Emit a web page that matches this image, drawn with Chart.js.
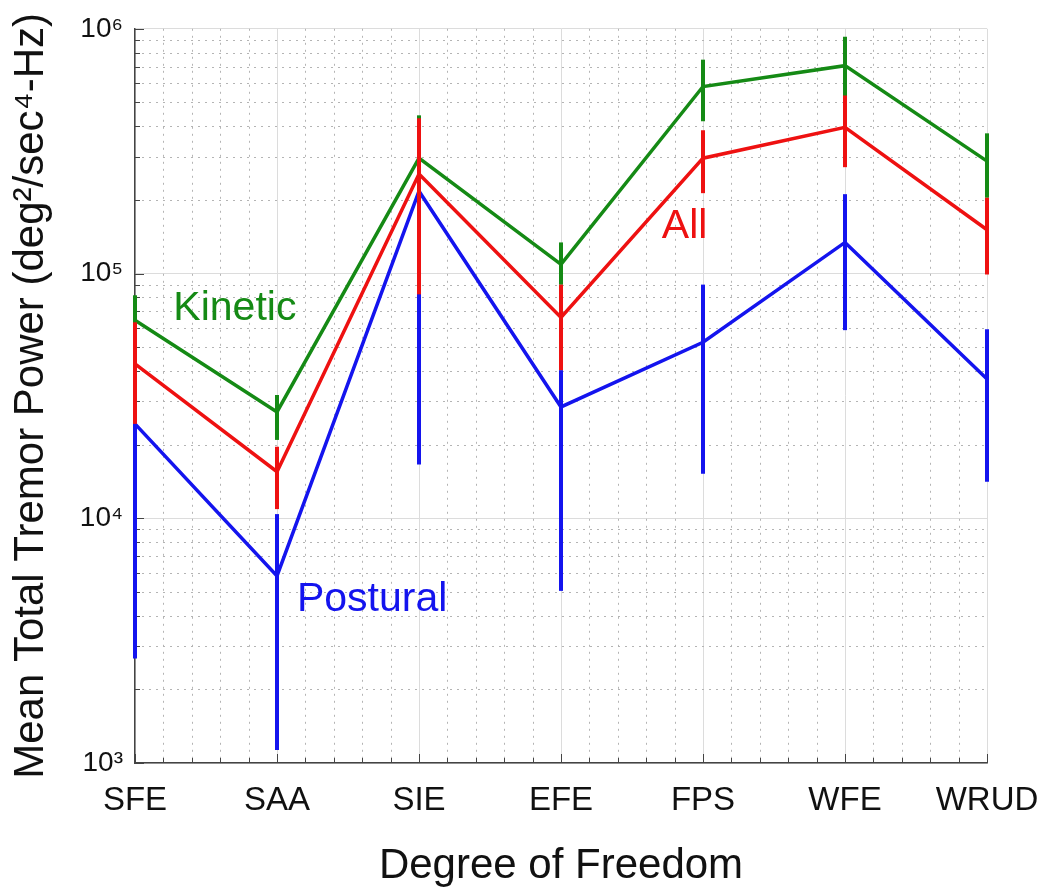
<!DOCTYPE html>
<html>
<head>
<meta charset="utf-8">
<script src="https://cdn.jsdelivr.net/npm/chart.js@4.4.1/dist/chart.umd.min.js"></script>
<style>
  html, body { margin: 0; padding: 0; background: #fff; }
  #wrap { width: 1042px; height: 894px; position: relative; }
</style>
</head>
<body>
<div id="wrap"><canvas id="tremorChart"></canvas></div>
<script>
// Mean total tremor power per degree of freedom, log scale, with error bars

const categories = ['SFE', 'SAA', 'SIE', 'EFE', 'FPS', 'WFE', 'WRUD'];

// Kinetic (green)
const kineticMean = [64400, 27200, 296000, 109000, 581000, 707000, 288000];
const kineticLow  = [47300, 20900, 150000, 90000, 419000, 510000, 204000];
const kineticHigh = [81500, 31900, 443000, 134000, 748000, 928000, 374000];

// All (red)
const allMean = [42700, 15500, 255000, 66200, 296000, 396000, 151000];
const allLow  = [24300, 10900, 82200, 40300, 213000, 272000, 99100];
const allHigh = [63200, 19600, 431000, 90100, 385000, 534000, 204000];

// Postural (blue)
const posturalMean = [24300, 5810, 217000, 28500, 52400, 134000, 37100];
const posturalLow  = [2670, 1130, 16600, 5050, 15200, 58700, 14100];
const posturalHigh = [45900, 10400, 417000, 40300, 90100, 211000, 59200];

// y axis tick labels (powers of ten)
const yTickLabels = { 1000: '10³', 10000: '10⁴', 100000: '10⁵', 1000000: '10⁶' };

// in-plot series labels: [text, category position, value at baseline]
const seriesLabels = [
    ['Kinetic', 0.27, 64400],
    ['Postural', 1.14, 4190],
    ['All', 3.71, 140000]
];

const GREEN = '#158a15';
const RED = '#ee1111';
const BLUE = '#1414ee';
const labelColors = [GREEN, BLUE, RED];
const FONT = "'Liberation Sans', Arial, sans-serif";

function isPow10(v) {
    const l = Math.log10(v);
    return Math.abs(l - Math.round(l)) < 1e-9;
}

// error bars drawn right after each line so the stacking follows dataset order
const errorBarPlugin = {
    id: 'errorBars',
    afterDatasetDraw: function(chart, args) {
        const ds = chart.data.datasets[args.index];
        if (!ds.errLow) return;
        const ctx = chart.ctx;
        const xs = chart.scales.x;
        const ys = chart.scales.y;
        ctx.save();
        ctx.strokeStyle = ds.borderColor;
        ctx.lineWidth = 4;
        ctx.lineCap = 'butt';
        for (let j = 0; j < ds.errLow.length; j++) {
            const x = xs.getPixelForValue(j);
            ctx.beginPath();
            ctx.moveTo(x, ys.getPixelForValue(ds.errLow[j]));
            ctx.lineTo(x, ys.getPixelForValue(ds.errHigh[j]));
            ctx.stroke();
        }
        ctx.restore();
    }
};

// dotted minor grid and small inward tick marks on the left and bottom axes
const minorGridPlugin = {
    id: 'minorGrid',
    beforeDatasetsDraw: function(chart) {
        const ctx = chart.ctx;
        const xs = chart.scales.x;
        const ys = chart.scales.y;
        const area = chart.chartArea;
        ctx.save();
        ctx.strokeStyle = '#b4b4b4';
        ctx.lineWidth = 1;
        ctx.setLineDash([2, 5]);
        for (let p = 3; p < 6; p++) {
            for (let m = 2; m <= 9; m++) {
                const y = Math.round(ys.getPixelForValue(m * Math.pow(10, p))) + 0.5;
                ctx.beginPath();
                ctx.moveTo(area.left, y);
                ctx.lineTo(area.right, y);
                ctx.stroke();
            }
        }
        for (let i = 0; i < categories.length - 1; i++) {
            for (let k = 1; k <= 4; k++) {
                const x = Math.round(xs.getPixelForValue(i + k / 5)) + 0.5;
                ctx.beginPath();
                ctx.moveTo(x, area.top);
                ctx.lineTo(x, area.bottom);
                ctx.stroke();
            }
        }
        ctx.setLineDash([]);
        ctx.strokeStyle = '#444';
        for (let p = 3; p <= 6; p++) {
            for (let m = 1; m <= 9; m++) {
                const v = m * Math.pow(10, p);
                if (v > 1e6) break;
                const y = Math.round(ys.getPixelForValue(v)) + 0.5;
                const len = m === 1 ? 9 : 5;
                ctx.beginPath();
                ctx.moveTo(area.left, y);
                ctx.lineTo(area.left + len, y);
                ctx.stroke();
            }
        }
        for (let i = 0; i < categories.length; i++) {
            for (let k = 0; k < 5; k++) {
                if (i === categories.length - 1 && k > 0) break;
                const x = Math.round(xs.getPixelForValue(i + k / 5)) + 0.5;
                const len = k === 0 ? 9 : 5;
                ctx.beginPath();
                ctx.moveTo(x, area.bottom);
                ctx.lineTo(x, area.bottom - len);
                ctx.stroke();
            }
        }
        ctx.restore();
    },
    afterDraw: function(chart) {
        const ctx = chart.ctx;
        const xs = chart.scales.x;
        const ys = chart.scales.y;
        ctx.save();
        ctx.font = '41px ' + FONT;
        ctx.textAlign = 'left';
        ctx.textBaseline = 'alphabetic';
        seriesLabels.forEach(function(lab, i) {
            ctx.fillStyle = labelColors[i];
            ctx.fillText(lab[0], xs.getPixelForValue(lab[1]), ys.getPixelForValue(lab[2]));
        });
        ctx.restore();
    }
};

function lineSet(label, data, low, high, color, order) {
    return {
        label: label,
        data: data,
        errLow: low,
        errHigh: high,
        borderColor: color,
        backgroundColor: color,
        borderWidth: 3.5,
        pointRadius: 0,
        tension: 0,
        fill: false,
        order: order
    };
}

const chartConfig = {
    type: 'line',
    data: {
        labels: categories,
        datasets: [
            lineSet('Postural', posturalMean, posturalLow, posturalHigh, BLUE, 2),
            lineSet('Kinetic', kineticMean, kineticLow, kineticHigh, GREEN, 1),
            lineSet('All', allMean, allLow, allHigh, RED, 0)
        ]
    },
    options: {
        responsive: true,
        maintainAspectRatio: false,
        animation: false,
        layout: { padding: { left: 0, top: 25, right: 55, bottom: 0 } },
        plugins: {
            legend: { display: false },
            tooltip: { enabled: false }
        },
        scales: {
            x: {
                type: 'category',
                offset: false,
                afterFit: function(scale) {
                    scale.height = 131;
                    scale.paddingLeft = 0;
                    scale.paddingRight = 0;
                },
                grid: { color: '#dcdcdc', lineWidth: 1, drawTicks: false },
                border: { color: '#444', width: 1.5 },
                ticks: {
                    color: '#111',
                    font: { family: FONT, size: 33 },
                    padding: 18,
                    autoSkip: false,
                    maxRotation: 0
                },
                title: {
                    display: true,
                    text: 'Degree of Freedom',
                    color: '#111',
                    font: { family: FONT, size: 42 },
                    padding: { top: 0, bottom: 2 }
                }
            },
            y: {
                type: 'logarithmic',
                min: 1000,
                max: 1000000,
                afterFit: function(scale) { scale.width = 135; },
                grid: {
                    drawTicks: false,
                    lineWidth: 1,
                    color: function(c) {
                        return c.tick && isPow10(c.tick.value) ? '#dcdcdc' : 'rgba(0,0,0,0)';
                    }
                },
                border: { color: '#444', width: 1.5 },
                ticks: {
                    color: '#111',
                    font: { family: FONT, size: 28 },
                    padding: 12,
                    autoSkip: false,
                    callback: function(value) {
                        return yTickLabels[value] || '';
                    }
                },
                title: {
                    display: true,
                    text: 'Mean Total Tremor Power (deg²/sec⁴-Hz)',
                    color: '#111',
                    font: { family: FONT, size: 42 },
                    padding: { top: 6, bottom: 0 }
                }
            }
        }
    },
    plugins: [errorBarPlugin, minorGridPlugin]
};

document.addEventListener('DOMContentLoaded', function() {
    const ctx = document.getElementById('tremorChart').getContext('2d');
    new Chart(ctx, chartConfig);
});
</script>
</body>
</html>
